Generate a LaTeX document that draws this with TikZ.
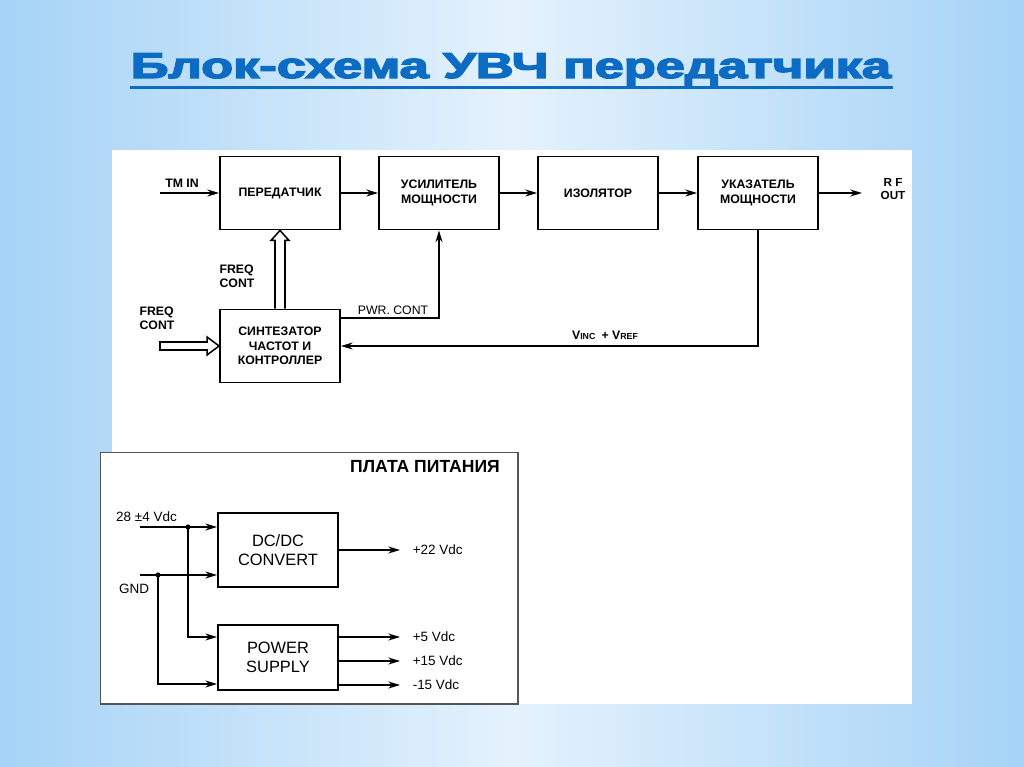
\documentclass[tikz,border=0pt]{standalone}
\usepackage{fontspec}
\setmainfont{Liberation Sans}
\newfontfamily\titlefont{Liberation Sans}[BoldFeatures={FakeBold=3.5}]
\usepackage{xcolor}
\usetikzlibrary{arrows.meta, positioning, calc}

\definecolor{bgSide}{RGB}{166,211,246}
\definecolor{bgMid}{RGB}{228,242,253}
\definecolor{titleBlue}{RGB}{12,108,196}
\definecolor{frameGray}{RGB}{85,85,85}

\begin{document}
\begin{tikzpicture}[
    x=0.03cm, y=-0.03cm,
    every node/.style={align=center, inner sep=0pt},
    block/.style={rectangle, draw, line width=1.6pt, fill=white,
                  minimum width=3.6cm, minimum height=2.19cm,
                  font=\fontsize{10.5}{12.5}\selectfont\bfseries},
    pblock/.style={rectangle, draw, line width=1.6pt, fill=white,
                   minimum width=3.6cm, font=\fontsize{14}{16.5}\selectfont},
    lbl/.style={font=\fontsize{10.5}{12}\selectfont\bfseries, align=left},
    vlbl/.style={font=\fontsize{11.5}{13}\selectfont, anchor=west},
    arr/.style={-{Stealth[length=10pt, width=6pt]}, line width=1.3pt},
    hollow/.style={draw, line width=1.3pt, fill=white, line join=miter}
]

% --- slide background ---
\useasboundingbox (0,0) rectangle (1024,767);
\shade[left color=bgSide, right color=bgSide, middle color=bgMid] (0,0) rectangle (1024,767);

% --- title ---
\node[text=titleBlue, anchor=base] (title) at (511,78)
  {\resizebox{22.8cm}{0.74cm}{\titlefont\bfseries Блок-схема УВЧ передатчика}};
\draw[titleBlue, line width=2.6pt] (130,87.5) -- (893,87.5);

% --- white sheet ---
\fill[white] (112,150) rectangle (912,704);

% --- transmitter chain (top) ---
\node[block] (tx)  at (280,193) {ПЕРЕДАТЧИК};
\node[block] (pa)  at (439,193) {УСИЛИТЕЛЬ\\МОЩНОСТИ};
\node[block] (iso) at (598,193) {ИЗОЛЯТОР};
\node[block] (pwi) at (758,193) {УКАЗАТЕЛЬ\\МОЩНОСТИ};
\node[block] (syn) at (280,346) {СИНТЕЗАТОР\\ЧАСТОТ И\\КОНТРОЛЛЕР};

\coordinate (tmin) at (160,193);
\coordinate (rfout) at (862,193);
\coordinate (fin) at (160,346);

\draw[arr] (tmin) -- (tx);
\draw[arr] (tx) -- (pa);
\draw[arr] (pa) -- (iso);
\draw[arr] (iso) -- (pwi);
\draw[arr] (pwi) -- (rfout);

\node[lbl] (tmlbl) at (182,183) {TM IN};
\node[lbl, align=center, font=\fontsize{10}{11.5}\selectfont\bfseries] (rflbl) at (893,189) {R F\\OUT};

% hollow arrows (freq control)
\draw[hollow] ($(syn.north)+(-5,0)$) -- ($(tx.south)+(-5,10)$) -- ($(tx.south)+(-9,10)$)
  -- (tx.south) -- ($(tx.south)+(9,10)$) -- ($(tx.south)+(5,10)$) -- ($(syn.north)+(5,0)$);
\draw[hollow] ($(fin)+(0,-4)$) -- ($(syn.west)+(-12,-4)$) -- ($(syn.west)+(-12,-9)$)
  -- (syn.west) -- ($(syn.west)+(-12,9)$) -- ($(syn.west)+(-12,4)$) -- ($(fin)+(0,4)$) -- cycle;

\node[lbl] (fc1) at (237,276) {FREQ\\CONT};
\node[lbl] (fc2) at (157,318) {FREQ\\CONT};

% power control and feedback
\coordinate (pcy) at (0,318);
\draw[arr] (syn.east |- pcy) -| (pa.south);
\node[font=\fontsize{10.5}{12}\selectfont] (pclbl) at (393,310) {PWR. CONT};
\draw[arr] (pwi.south) |- (syn.east);
\node[font=\fontsize{10.5}{12}\selectfont\bfseries] (vlbl) at (605,335)
  {V{\fontsize{7.5}{9}\selectfont INC}\enspace+ V{\fontsize{7.5}{9}\selectfont REF}};

% --- power board (bottom) ---
\draw[frameGray, line width=1.2pt, fill=white] (100.5,452.5) rectangle (518,704);
\node[font=\fontsize{15}{17}\selectfont\bfseries] (board) at (425,467) {ПЛАТА ПИТАНИЯ};

\node[pblock, minimum height=2.22cm] (dcdc) at (278,550) {DC/DC\\CONVERT};
\node[pblock, minimum height=1.95cm] (psu)  at (278,657.5) {POWER\\SUPPLY};

\coordinate (vin) at (140,527);
\coordinate (gin) at (140,575);
\coordinate (j1) at (188,527);
\coordinate (j2) at (158,575);
\coordinate (p1) at (0,637);
\coordinate (p2) at (0,684);

\draw[arr] (vin) -- (vin -| dcdc.west);
\draw[arr] (gin) -- (gin -| dcdc.west);
\draw[arr] (j1) |- (psu.west |- p1);
\draw[arr] (j2) |- (psu.west |- p2);
\fill (j1) circle (2.6);
\fill (j2) circle (2.6);

\node[vlbl] (vinlbl) at (116,517) {28 ±4 Vdc};
\node[vlbl] (gndlbl) at (119,589) {GND};

\draw[arr] (dcdc.east) -- (400,550) node[vlbl, right=12*0.03cm] (o22) {+22 Vdc};
\foreach \y/\txt in {637/+5 Vdc, 661/+15 Vdc, 685/-15 Vdc} {
  \draw[arr] (psu.east |- 0,\y) -- (400,\y) node[vlbl, right=12*0.03cm] {\txt};
}

\end{tikzpicture}
\end{document}
